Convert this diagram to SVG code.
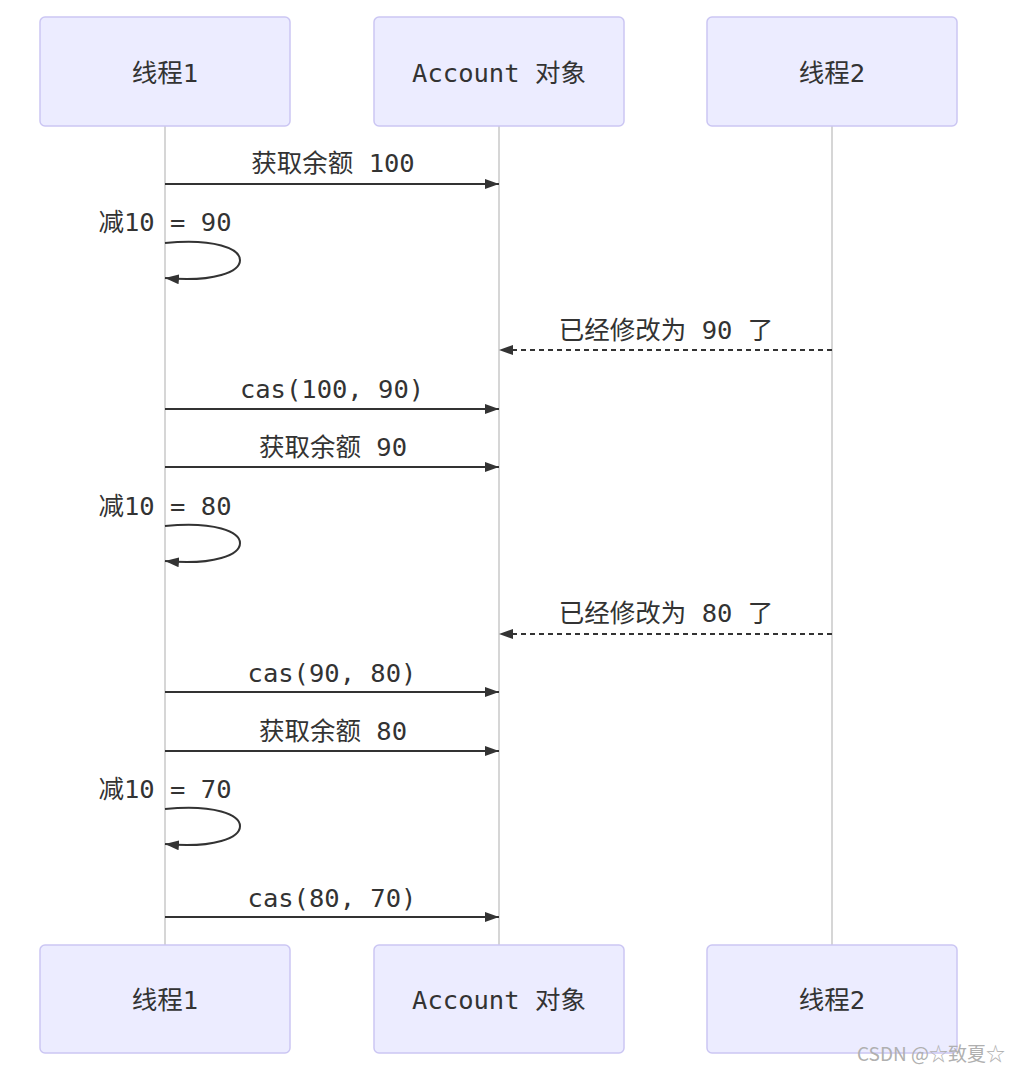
<svg xmlns="http://www.w3.org/2000/svg" width="1010" height="1072" viewBox="0 0 1010 1072">
<defs>
<style>
.actor rect{fill:#ECECFF;stroke:#CBC6F3;stroke-width:1.5}
.t{font-family:"DejaVu Sans Mono","Noto Sans CJK SC",monospace;font-size:25.5px;fill:#333;text-anchor:middle}
.life{stroke:#C8C8C8;stroke-width:1.5}
.msg{stroke:#333;stroke-width:2;fill:none}
.dash{stroke-dasharray:5,4}
.wm{font-family:"Noto Sans CJK SC","Liberation Sans",sans-serif;font-size:19px;fill:#B0B0B0}
</style>
<marker id="ah" viewBox="0 0 14 10" refX="14" refY="5" markerWidth="14" markerHeight="10" markerUnits="userSpaceOnUse" orient="auto">
<path d="M0,0 L14,5 L0,10 z" fill="#333"/>
</marker>
</defs>
<rect width="1010" height="1072" fill="#fff"/>
<g id="lifelines">
<line class="life" x1="165" y1="126" x2="165" y2="945"/>
<line class="life" x1="499" y1="126" x2="499" y2="945"/>
<line class="life" x1="832" y1="126" x2="832" y2="945"/>
</g>
<g id="actor-t1-top" class="actor"><rect x="40" y="17" width="250" height="109" rx="5"/><text class="t" x="165" y="82">线程1</text></g>
<g id="actor-acc-top" class="actor"><rect x="374" y="17" width="250" height="109" rx="5"/><text class="t" x="499" y="82">Account 对象</text></g>
<g id="actor-t2-top" class="actor"><rect x="707" y="17" width="250" height="109" rx="5"/><text class="t" x="832" y="82">线程2</text></g>
<g id="actor-t1-bottom" class="actor"><rect x="40" y="945" width="250" height="108" rx="5"/><text class="t" x="165" y="1009">线程1</text></g>
<g id="actor-acc-bottom" class="actor"><rect x="374" y="945" width="250" height="108" rx="5"/><text class="t" x="499" y="1009">Account 对象</text></g>
<g id="actor-t2-bottom" class="actor"><rect x="707" y="945" width="250" height="108" rx="5"/><text class="t" x="832" y="1009">线程2</text></g>
<g id="connectors">
<line class="msg" x1="165" y1="184" x2="499" y2="184" marker-end="url(#ah)"/>
<path class="msg" d="M165,243 C265,233 265,287 165,278" marker-end="url(#ah)"/>
<line class="msg dash" x1="832" y1="350" x2="499" y2="350" marker-end="url(#ah)"/>
<line class="msg" x1="165" y1="409" x2="499" y2="409" marker-end="url(#ah)"/>
<line class="msg" x1="165" y1="467" x2="499" y2="467" marker-end="url(#ah)"/>
<path class="msg" d="M165,526 C265,516 265,570 165,561" marker-end="url(#ah)"/>
<line class="msg dash" x1="832" y1="634" x2="499" y2="634" marker-end="url(#ah)"/>
<line class="msg" x1="165" y1="692" x2="499" y2="692" marker-end="url(#ah)"/>
<line class="msg" x1="165" y1="751" x2="499" y2="751" marker-end="url(#ah)"/>
<path class="msg" d="M165,809 C265,799 265,853 165,844" marker-end="url(#ah)"/>
<line class="msg" x1="165" y1="917" x2="499" y2="917" marker-end="url(#ah)"/>
</g>
<g id="labels">
<text class="t" x="333" y="172">获取余额 100</text>
<text class="t" x="165" y="231">减10 = 90</text>
<text class="t" x="666" y="339">已经修改为 90 了</text>
<text class="t" x="332" y="398">cas(100, 90)</text>
<text class="t" x="333" y="456">获取余额 90</text>
<text class="t" x="165" y="515">减10 = 80</text>
<text class="t" x="666" y="622">已经修改为 80 了</text>
<text class="t" x="332" y="682">cas(90, 80)</text>
<text class="t" x="333" y="740">获取余额 80</text>
<text class="t" x="165" y="798">减10 = 70</text>
<text class="t" x="332" y="907">cas(80, 70)</text>
</g>
<text class="wm" x="857" y="1061">CSDN @☆致夏☆</text>
</svg>
